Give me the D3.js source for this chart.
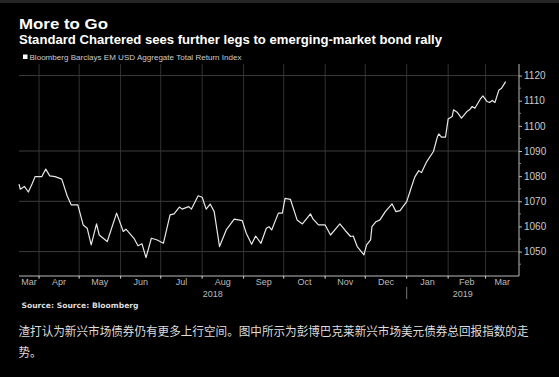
<!DOCTYPE html>
<html>
<head>
<meta charset="utf-8">
<script src="https://cdn.jsdelivr.net/npm/d3@7"></script>
<style>
  html, body { margin: 0; padding: 0; background: #000; }
  svg { display: block; }
</style>
</head>
<body>
<div id="chart"></div>
<script>
// index level
const dates = [
  "2018-03-17", "2018-03-18", "2018-03-21", "2018-03-24", "2018-03-27", "2018-03-29",
  "2018-04-03", "2018-04-06", "2018-04-09", "2018-04-13", "2018-04-18", "2018-04-22",
  "2018-04-25", "2018-04-30", "2018-05-04", "2018-05-07", "2018-05-10", "2018-05-14",
  "2018-05-16", "2018-05-22", "2018-05-29", "2018-06-03", "2018-06-05", "2018-06-11",
  "2018-06-14", "2018-06-17", "2018-06-20", "2018-06-24", "2018-06-28", "2018-07-03",
  "2018-07-08", "2018-07-11", "2018-07-15", "2018-07-17", "2018-07-22", "2018-07-24",
  "2018-07-29", "2018-08-01", "2018-08-04", "2018-08-07", "2018-08-10", "2018-08-14",
  "2018-08-19", "2018-08-25", "2018-08-31", "2018-09-03", "2018-09-07", "2018-09-10",
  "2018-09-14", "2018-09-18", "2018-09-20", "2018-09-22", "2018-09-27", "2018-09-30",
  "2018-10-02", "2018-10-06", "2018-10-11", "2018-10-15", "2018-10-21", "2018-10-23",
  "2018-10-27", "2018-11-01", "2018-11-05", "2018-11-12", "2018-11-16", "2018-11-20",
  "2018-11-22", "2018-11-25", "2018-11-30", "2018-12-02", "2018-12-05", "2018-12-06",
  "2018-12-09", "2018-12-12", "2018-12-16", "2018-12-21", "2018-12-24", "2018-12-27",
  "2019-01-01", "2019-01-04", "2019-01-07", "2019-01-10", "2019-01-12", "2019-01-16",
  "2019-01-21", "2019-01-24", "2019-01-25", "2019-01-27", "2019-01-30", "2019-02-01",
  "2019-02-04", "2019-02-05", "2019-02-08", "2019-02-11", "2019-02-15", "2019-02-17",
  "2019-02-19", "2019-02-21", "2019-02-25", "2019-02-27", "2019-03-02", "2019-03-04",
  "2019-03-06", "2019-03-08", "2019-03-11", "2019-03-13", "2019-03-16"
];
const values = [
  1076.8, 1074.8, 1075.9, 1073.7, 1077.2, 1079.8,
  1079.8, 1082.8, 1080.1, 1079.8, 1078.8, 1072.2,
  1068.6, 1068.6, 1060.6, 1059.3, 1052.7, 1061.0,
  1056.6, 1054.0, 1065.3, 1058.0, 1058.9, 1055.3,
  1052.3, 1053.1, 1047.6, 1055.3, 1054.7, 1053.3,
  1064.6, 1065.0, 1067.7, 1066.9, 1067.9, 1066.9,
  1072.2, 1071.6, 1066.9, 1068.9, 1065.9, 1052.0,
  1058.6, 1062.9, 1062.3, 1057.3, 1052.9, 1056.2,
  1053.3, 1059.3, 1059.9, 1058.6, 1065.3, 1065.3,
  1071.2, 1070.8, 1062.6, 1061.0, 1065.0, 1062.9,
  1060.6, 1060.6, 1056.6, 1061.0, 1058.4, 1056.0,
  1056.2, 1052.0, 1048.7, 1052.7, 1054.7, 1059.9,
  1061.9, 1062.6, 1065.9, 1069.0, 1065.9, 1066.3,
  1069.9, 1074.8, 1079.6, 1082.2, 1081.4, 1085.8,
  1089.8, 1095.7, 1096.8, 1095.5, 1095.5, 1102.7,
  1103.7, 1106.4, 1105.3, 1103.1, 1105.7, 1106.4,
  1107.7, 1107.0, 1110.6, 1111.9, 1109.7, 1109.3,
  1110.1, 1109.3, 1114.3, 1115.0, 1117.6
];
const yTicks = [1050, 1060, 1070, 1080, 1090, 1100, 1110, 1120];
const yGrid = [1050, 1070, 1090, 1120];
const years = ["2018", "2019"];

const title = "More to Go";
const subtitle = "Standard Chartered sees further legs to emerging-market bond rally";
const legendLabel = "Bloomberg Barclays EM USD Aggregate Total Return Index";
const source = "Source: Source: Bloomberg";
const caption = [
  "渣打认为新兴市场债券仍有更多上行空间。图中所示为彭博巴克莱新兴市场美元债券总回报指数的走",
  "势。"
];

const width = 559, height = 377;
const parse = d3.timeParse("%Y-%m-%d");
const data = dates.map((d, i) => ({ date: parse(d), value: values[i] }));

const svg = d3.select("#chart").append("svg")
  .attr("width", width)
  .attr("height", height);

svg.append("rect").attr("width", width).attr("height", height).attr("fill", "#000");
// thin grey strip left over at the very top
svg.append("rect").attr("width", width).attr("height", 3).attr("fill", "#262626");

const x = d3.scaleTime()
  .domain([parse("2018-03-17"), parse("2019-03-26")])
  .range([19, 519]);
const y = d3.scaleLinear()
  .domain([1040.3, 1124.6])
  .range([276, 64]);

// titles
svg.append("text").attr("x", 19).attr("y", 28.5)
  .attr("fill", "#fff").attr("font-family", "Liberation Sans, sans-serif")
  .attr("font-weight", "bold").attr("font-size", 15)
  .attr("textLength", 89).attr("lengthAdjust", "spacingAndGlyphs")
  .text(title);
svg.append("text").attr("x", 19).attr("y", 43.5)
  .attr("fill", "#fff").attr("font-family", "Liberation Sans, sans-serif")
  .attr("font-weight", "bold").attr("font-size", 12.5)
  .attr("textLength", 423).attr("lengthAdjust", "spacingAndGlyphs")
  .text(subtitle);

// legend
svg.append("rect").attr("x", 23).attr("y", 54.5).attr("width", 4.5).attr("height", 4.5).attr("fill", "#fff");
svg.append("text").attr("x", 29.5).attr("y", 60)
  .attr("fill", "#ccc").attr("font-family", "Liberation Sans, sans-serif")
  .attr("font-size", 7.5)
  .attr("textLength", 212).attr("lengthAdjust", "spacingAndGlyphs")
  .text(legendLabel);

// grid
const months = d3.timeMonth.range(d3.timeMonth.ceil(x.domain()[0]), x.domain()[1]);
svg.append("g").selectAll("line").data(months).join("line")
  .attr("x1", d => x(d)).attr("x2", d => x(d))
  .attr("y1", 64).attr("y2", 279)
  .attr("stroke", "#323232").attr("stroke-width", 1);
svg.append("g").selectAll("line").data(yGrid).join("line")
  .attr("x1", 19).attr("x2", 519)
  .attr("y1", d => y(d)).attr("y2", d => y(d))
  .attr("stroke", "#3c3c3c").attr("stroke-width", 1);

// right axis
const yAxis = d3.axisRight(y).tickValues(yTicks).tickSize(3).tickPadding(2).tickFormat(d3.format("d"));
const gy = svg.append("g").attr("transform", "translate(519,0)").call(yAxis);
gy.select(".domain").attr("stroke", "#bbb").attr("d", "M0,64V276");
gy.selectAll(".tick line").attr("stroke", "#bbb");
gy.selectAll(".tick text").attr("fill", "#ccc")
  .attr("font-family", "Liberation Sans, sans-serif").attr("font-size", 10);
const minor = d3.range(1045, 1125, 10);
gy.append("g").selectAll("line").data(minor).join("line")
  .attr("x1", 0).attr("x2", 2)
  .attr("y1", d => y(d)).attr("y2", d => y(d))
  .attr("stroke", "#888");

// bottom axis
const gx = svg.append("g").attr("transform", "translate(0,276)");
gx.append("line").attr("x1", 19).attr("x2", 519).attr("stroke", "#bbb");
gx.selectAll(".mt").data(months).join("line").attr("class", "mt")
  .attr("x1", d => x(d)).attr("x2", d => x(d))
  .attr("y1", 0).attr("y2", 2.5).attr("stroke", "#ccc");

const [d0, d1] = x.domain();
const monthSpans = [d3.timeMonth.floor(d0)].concat(months).map(m => {
  const a = m < d0 ? d0 : m;
  const e = d3.timeMonth.offset(m, 1);
  const b = e > d1 ? d1 : e;
  return { m, cx: (x(a) + x(b)) / 2 };
});
gx.selectAll(".ml").data(monthSpans).join("text").attr("class", "ml")
  .attr("x", d => d.cx).attr("y", 9)
  .attr("text-anchor", "middle").attr("fill", "#bbb")
  .attr("font-family", "Liberation Sans, sans-serif").attr("font-size", 9)
  .text(d => d3.timeFormat("%b")(d.m));

const yearStart = parse("2019-01-01");
const yearSpans = [[d0, yearStart], [yearStart, d1]];
gx.selectAll(".yl").data(years).join("text").attr("class", "yl")
  .attr("x", (d, i) => (x(yearSpans[i][0]) + x(yearSpans[i][1])) / 2)
  .attr("y", 20.5)
  .attr("text-anchor", "middle").attr("fill", "#bbb")
  .attr("font-family", "Liberation Sans, sans-serif").attr("font-size", 9)
  .text(d => d);
gx.append("line").attr("x1", x(yearStart)).attr("x2", x(yearStart))
  .attr("y1", 11).attr("y2", 23).attr("stroke", "#777");

// the line
const line = d3.line().x(d => x(d.date)).y(d => y(d.value));
svg.append("path").datum(data)
  .attr("d", line)
  .attr("fill", "none").attr("stroke", "#e8e8e8")
  .attr("stroke-width", 1.2).attr("stroke-linejoin", "round");

// source
svg.append("text").attr("x", 21.5).attr("y", 307.5)
  .attr("fill", "#ddd").attr("font-family", "DejaVu Sans, sans-serif")
  .attr("font-weight", "bold").attr("font-size", 7.5)
  .attr("textLength", 117).attr("lengthAdjust", "spacingAndGlyphs")
  .text(source);

// caption
svg.append("text").attr("x", 18.5).attr("y", 336)
  .attr("fill", "#ddd").attr("font-family", "Noto Sans CJK SC, sans-serif")
  .attr("font-size", 12)
  .attr("textLength", 510).attr("lengthAdjust", "spacingAndGlyphs")
  .text(caption[0]);
svg.append("text").attr("x", 18.5).attr("y", 357)
  .attr("fill", "#ddd").attr("font-family", "Noto Sans CJK SC, sans-serif")
  .attr("font-size", 12)
  .attr("textLength", 23.2).attr("lengthAdjust", "spacingAndGlyphs")
  .text(caption[1]);
</script>
</body>
</html>
